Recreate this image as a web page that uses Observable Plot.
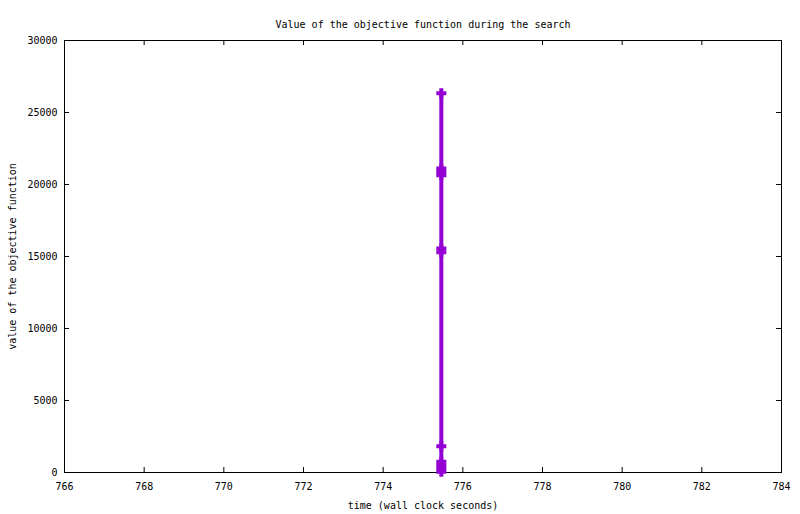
<!DOCTYPE html>
<html>
<head>
<meta charset="utf-8">
<script src="https://cdn.jsdelivr.net/npm/d3@7"></script>
<script src="https://cdn.jsdelivr.net/npm/@observablehq/plot@0.6"></script>
<style>
  html, body { margin: 0; padding: 0; background: white; }
  svg { display: block; }
</style>
</head>
<body>
<div id="chart"></div>
<script>
const title = "Value of the objective function during the search";
const xLabel = "time (wall clock seconds)";
const yLabel = "value of the objective function";
const xTicks = [766, 768, 770, 772, 774, 776, 778, 780, 782, 784];
const yTicks = [0, 5000, 10000, 15000, 20000, 25000, 30000];
// search trace: wall clock time and objective value
const times = [775.46, 775.46, 775.46, 775.46, 775.46, 775.46, 775.46, 775.46, 775.46, 775.46, 775.46];
const values = [26340, 21110, 20880, 20650, 15560, 15300, 1830, 740, 510, 280, 50];

const data = times.map((t, i) => ({t, v: values[i]}));
const lineColor = "#9400d3";

const chart = Plot.plot({
  width: 800,
  height: 514,
  marginLeft: 64,
  marginRight: 19,
  marginTop: 40,
  marginBottom: 42,
  style: {fontFamily: "'DejaVu Sans Mono', monospace", fontSize: "10px", background: "white", color: "black", overflow: "visible"},
  x: {domain: [766, 784]},
  y: {domain: [0, 30000]},
  marks: [
    Plot.frame({stroke: "black"}),
    Plot.axisX({ticks: xTicks, tickSize: 0, tickPadding: 10, tickFormat: d => String(d),
      label: xLabel, labelAnchor: "center", labelOffset: 36, labelArrow: "none"}),
    Plot.axisY({ticks: yTicks, tickSize: 0, tickPadding: 7, tickFormat: d => String(d),
      label: yLabel, labelAnchor: "center", labelOffset: 56, labelArrow: "none"}),
    Plot.tickX(xTicks, {x: d => d, insetTop: 427, stroke: "black"}),
    Plot.tickX(xTicks, {x: d => d, insetBottom: 427, stroke: "black"}),
    Plot.tickY(yTicks, {y: d => d, insetRight: 712, stroke: "black"}),
    Plot.tickY(yTicks, {y: d => d, insetLeft: 712, stroke: "black"}),
    Plot.line(data, {x: "t", y: "v", stroke: lineColor, strokeWidth: 4}),
    Plot.dot(data, {x: "t", y: "v", symbol: "plus", r: 3.32, stroke: lineColor, strokeWidth: 4}),
    Plot.text([title], {frameAnchor: "top", dy: -20, fontSize: 10, fill: "black"})
  ]
});
document.getElementById("chart").appendChild(chart);
</script>
</body>
</html>
